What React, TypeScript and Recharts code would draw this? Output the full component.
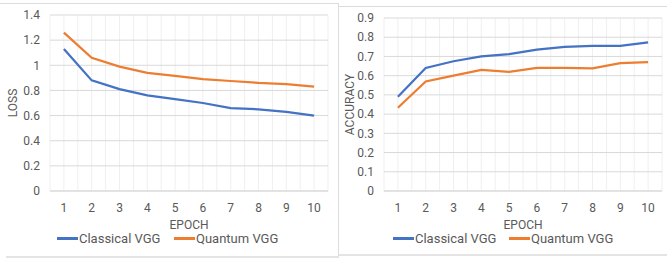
import React from 'react';
import { LineChart, Line, XAxis, YAxis, CartesianGrid } from 'recharts';

const epochs = ['1', '2', '3', '4', '5', '6', '7', '8', '9', '10'];
const lossClassical = [1.13, 0.88, 0.81, 0.76, 0.73, 0.70, 0.66, 0.65, 0.63, 0.60];
const lossQuantum = [1.26, 1.06, 0.99, 0.94, 0.915, 0.89, 0.875, 0.86, 0.85, 0.83];
const accClassical = [0.49, 0.64, 0.675, 0.70, 0.712, 0.735, 0.75, 0.755, 0.755, 0.773];
const accQuantum = [0.433, 0.57, 0.60, 0.63, 0.62, 0.64, 0.64, 0.638, 0.665, 0.67];
const lossTicks = [0, 0.2, 0.4, 0.6, 0.8, 1, 1.2, 1.4];
const accTicks = [0, 0.1, 0.2, 0.3, 0.4, 0.5, 0.6, 0.7, 0.8, 0.9];
const seriesNames = ['Classical VGG', 'Quantum VGG'];

const BLUE = '#4472C4';
const ORANGE = '#ED7D31';
const TEXT = '#595959';
const FONT = 'Roboto, "Noto Sans", sans-serif';

const lossData = epochs.map((e, i) => ({ epoch: e, classical: lossClassical[i], quantum: lossQuantum[i] }));
const accData = epochs.map((e, i) => ({ epoch: e, classical: accClassical[i], quantum: accQuantum[i] }));

const vGen = (props: any) => {
  const s = props?.xAxis?.scale;
  const off = props?.offset;
  let fn: ((v: string) => number) | null = null;
  let bw = 0;
  if (s) {
    if (typeof s === 'function') fn = s;
    else if (typeof s.map === 'function') fn = (v: string) => s.map(v);
    else if (typeof s.apply === 'function') fn = (v: string) => s.apply(v);
    if (typeof s.bandwidth === 'function') bw = s.bandwidth();
  }
  const pts: number[] = [];
  if (fn && bw > 0) {
    epochs.forEach((c) => {
      const x = fn!(c);
      if (x == null || isNaN(x)) return;
      pts.push(x);
      pts.push(x + bw / 2);
    });
    pts.push(fn(epochs[epochs.length - 1]) + bw);
    return pts;
  }
  if (off) {
    const band = off.width / epochs.length;
    for (let i = 0; i <= epochs.length * 2; i++) pts.push(off.left + (band / 2) * i);
  }
  return pts;
};

const yLabel = (text: string, dx: number) => (props: any) => {
  const vb = props.viewBox || {};
  const cx = vb.x + dx;
  const cy = vb.y + vb.height / 2;
  return (
    <text x={cx} y={cy} transform={`rotate(-90 ${cx} ${cy})`} textAnchor="middle" dominantBaseline="central"
      fill={TEXT} fontSize={12} fontFamily={FONT}>{text}</text>
  );
};

const LegendItem = ({ color, name, left, top }: any) => (
  <div style={{ position: 'absolute', left, top, display: 'flex', alignItems: 'center', fontFamily: FONT, fontSize: 13, color: TEXT, whiteSpace: 'nowrap' }}>
    <span style={{ display: 'inline-block', width: 21, height: 2.5, background: color, marginRight: 1 }} />
    <span>{name}</span>
  </div>
);

const Panel = ({ data, ticks, domain, yName, yLabelDx, width, margin, yWidth }: any) => (
  <LineChart width={width} height={259} data={data} margin={margin}>
    <CartesianGrid horizontal={false} vertical stroke="#efefef" verticalCoordinatesGenerator={vGen} />
    <CartesianGrid vertical={false} horizontal stroke="#d9d9d9" />
    <XAxis dataKey="epoch" scale="band" tickLine={false} tickSize={0} tickMargin={12} height={40}
      axisLine={{ stroke: '#d9d9d9' }} tick={{ fill: TEXT, fontSize: 12, fontFamily: FONT }} interval={0}
      label={{ value: 'EPOCH', position: 'insideBottom', offset: 2, fill: TEXT, fontSize: 12, fontFamily: FONT }} />
    <YAxis type="number" domain={domain} ticks={ticks} width={yWidth} tickLine={false} tickSize={0} tickMargin={10}
      axisLine={false} tick={{ fill: TEXT, fontSize: 12, fontFamily: FONT }} interval={0}
      tickFormatter={(v: number) => String(v)} label={{ content: yLabel(yName, yLabelDx) }} />
    <Line type="linear" dataKey="classical" name={seriesNames[0]} stroke={BLUE} strokeWidth={2.25} dot={false} isAnimationActive={false} />
    <Line type="linear" dataKey="quantum" name={seriesNames[1]} stroke={ORANGE} strokeWidth={2.25} dot={false} isAnimationActive={false} />
  </LineChart>
);

export default function App() {
  return (
    <div style={{ position: 'absolute', left: 0, top: 0, width: 667, height: 259, background: '#fff', overflow: 'hidden' }}>
      <div style={{ position: 'absolute', left: 0, top: 0 }}>
        <Panel data={lossData} ticks={lossTicks} domain={[0, 1.4]} yName="LOSS" yLabelDx={13} width={339}
          margin={{ top: 15, right: 11, left: 0, bottom: 28 }} yWidth={50} />
      </div>
      <div style={{ position: 'absolute', left: 339, top: 0 }}>
        <Panel data={accData} ticks={accTicks} domain={[0, 0.9]} yName="ACCURACY" yLabelDx={11} width={328}
          margin={{ top: 18, right: 5, left: 0, bottom: 28 }} yWidth={45} />
      </div>
      <div style={{ position: 'absolute', left: 0, top: 3, width: 339, height: 1, background: '#dcdcdc' }} />
      <div style={{ position: 'absolute', left: 338, top: 3, width: 1, height: 254, background: '#dcdcdc' }} />
      <div style={{ position: 'absolute', left: 6, top: 256, width: 333, height: 2, background: '#e4e4e4' }} />
      <div style={{ position: 'absolute', left: 339, top: 6, width: 328, height: 1, background: '#dcdcdc' }} />
      <div style={{ position: 'absolute', left: 339, top: 254, width: 328, height: 2, background: '#e4e4e4' }} />
      <LegendItem color={BLUE} name={seriesNames[0]} left={57} top={231} />
      <LegendItem color={ORANGE} name={seriesNames[1]} left={174} top={231} />
      <LegendItem color={BLUE} name={seriesNames[0]} left={393} top={231} />
      <LegendItem color={ORANGE} name={seriesNames[1]} left={509} top={231} />
    </div>
  );
}
